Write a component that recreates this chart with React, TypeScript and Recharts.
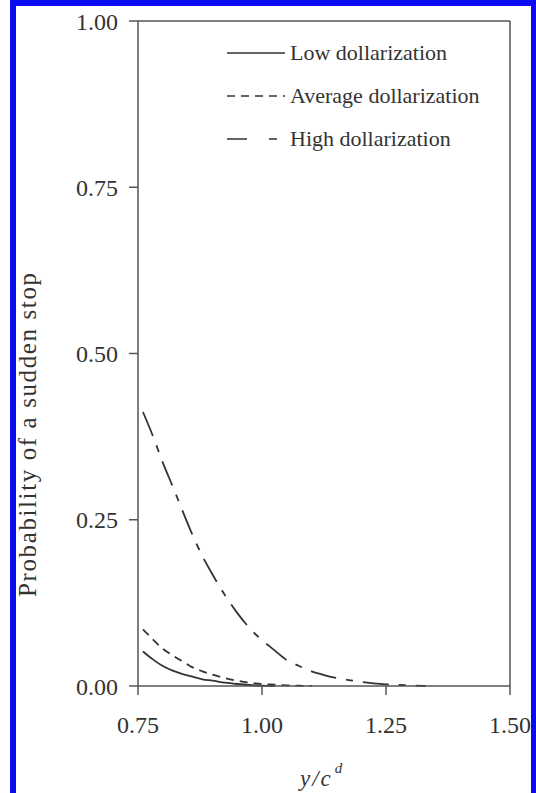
import { Label, Line, LineChart, ReferenceLine, XAxis, YAxis } from "recharts";

const xValues = [
  0.76, 0.78, 0.8, 0.82, 0.84, 0.86, 0.88, 0.9, 0.925, 0.95, 0.975, 1.0, 1.025, 1.05, 1.075, 1.1, 1.125,
  1.15, 1.175, 1.2, 1.225, 1.25, 1.275, 1.3, 1.33,
];

const lowValues = [
  0.052, 0.04, 0.03, 0.023, 0.018, 0.014, 0.01, 0.008, 0.005, 0.003, 0.0015, 0.0005, 0,
];
const averageValues = [
  0.085, 0.07, 0.056, 0.046, 0.037, 0.028, 0.022, 0.017, 0.012, 0.008, 0.005, 0.003, 0.002, 0.001, 0.0005, 0,
];
const highValues = [
  0.412, 0.376, 0.336, 0.3, 0.263, 0.227, 0.195, 0.168, 0.137, 0.11, 0.087, 0.069, 0.054, 0.039, 0.03, 0.022,
  0.0165, 0.012, 0.009, 0.006, 0.004, 0.0025, 0.0015, 0.001, 0,
];

const xTicks = [0.75, 1.0, 1.25, 1.5];
const yTicks = [0, 0.25, 0.5, 0.75, 1.0];

const SERIES = [
  { key: "low", label: "Low dollarization", dash: undefined, legendDash: undefined },
  { key: "average", label: "Average dollarization", dash: "8 6", legendDash: "8 6" },
  { key: "high", label: "High dollarization", dash: "26 10 7 10", legendDash: "20 22 8 10" },
] as const;

const data = xValues.map((x, i) => ({
  x,
  low: lowValues[i],
  average: averageValues[i],
  high: highValues[i],
}));

const FONT = "'Liberation Serif', 'Times New Roman', serif";
const INK = "#333";
const AXIS = "#555";

// legend sits inside the plot box, drawn over the chart
function LegendBox() {
  return (
    <div
      style={{
        position: "absolute",
        left: 227,
        top: 31,
        fontFamily: FONT,
        color: INK,
        fontSize: 22,
        lineHeight: "22px",
      }}
    >
      {SERIES.map((s) => (
        <div key={s.key} style={{ display: "flex", alignItems: "center", height: 43 }}>
          <svg width={58} height={10} style={{ marginRight: 5 }}>
            <line x1={0} y1={5} x2={58} y2={5} stroke={INK} strokeWidth={1.6} strokeDasharray={s.legendDash} />
          </svg>
          <span>{s.label}</span>
        </div>
      ))}
    </div>
  );
}

export default function App() {
  return (
    <div style={{ position: "absolute", left: 0, top: 0, width: 536, height: 793, background: "#fff" }}>
      <div
        style={{
          position: "absolute",
          left: 10,
          top: 0,
          width: 515,
          height: 787,
          borderStyle: "solid",
          borderColor: "#0b0bf2",
          borderWidth: "6px 5px 3px 6px",
        }}
      />
      <LineChart
        width={536}
        height={793}
        data={data}
        margin={{ top: 21, right: 26, bottom: 47, left: 78 }}
        style={{ position: "absolute", left: 0, top: 0 }}
      >
        <XAxis
          dataKey="x"
          type="number"
          domain={[0.75, 1.5]}
          ticks={xTicks}
          tickFormatter={(v: number) => v.toFixed(2)}
          height={60}
          tickSize={9}
          tickMargin={21}
          stroke={AXIS}
          strokeWidth={1.5}
          tick={{ fill: INK, fontSize: 24, fontFamily: FONT }}
        >
          <Label
            content={() => (
              <text x={300} y={786} fontFamily={FONT} fontStyle="italic" fontSize={23} fill={INK} letterSpacing={2}>
                y/c
                <tspan dx={2} dy={-13} fontSize={15}>
                  d
                </tspan>
              </text>
            )}
          />
        </XAxis>
        <YAxis
          type="number"
          domain={[0, 1]}
          ticks={yTicks}
          tickFormatter={(v: number) => v.toFixed(2)}
          width={60}
          tickSize={9}
          tickMargin={11}
          stroke={AXIS}
          strokeWidth={1.5}
          tick={{ fill: INK, fontSize: 24, fontFamily: FONT }}
        >
          <Label
            content={() => (
              <text
                x={27}
                y={435}
                transform="rotate(-90, 27, 435)"
                textAnchor="middle"
                dominantBaseline="central"
                fontFamily={FONT}
                fontSize={25}
                fill={INK}
                textLength={324}
                lengthAdjust="spacing"
              >
                Probability of a sudden stop
              </text>
            )}
          />
        </YAxis>
        <ReferenceLine y={1} stroke={AXIS} strokeWidth={1.5} />
        <ReferenceLine x={1.5} stroke={AXIS} strokeWidth={1.5} />
        {SERIES.map((s) => (
          <Line
            key={s.key}
            dataKey={s.key}
            name={s.label}
            type="monotone"
            stroke={INK}
            strokeWidth={1.8}
            strokeDasharray={s.dash}
            dot={false}
            activeDot={false}
            isAnimationActive={false}
          />
        ))}
      </LineChart>
      <LegendBox />
    </div>
  );
}
